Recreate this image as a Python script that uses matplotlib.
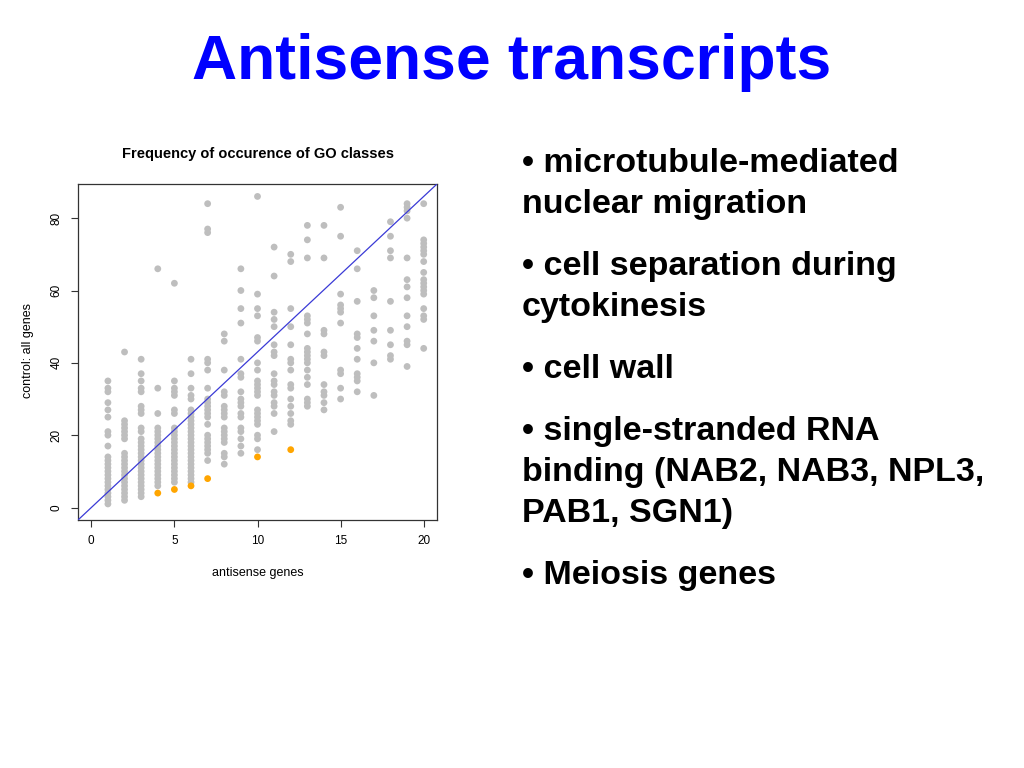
import matplotlib
matplotlib.use("Agg")
from matplotlib import pyplot as plt

plt.rcParams['font.family'] = ['Liberation Sans', 'DejaVu Sans']

# number of antisense genes per GO class (x) and the control counts seen at each x
antisense = [1, 2, 3, 4, 5, 6, 7, 8, 9, 10, 11, 12, 13, 14, 15, 16, 17, 18, 19, 20]
control = [
    [1, 2, 3, 4, 5, 6, 7, 8, 9, 10, 11, 12, 13, 14, 17, 20, 21, 25, 27, 29, 32, 33, 35],
    [2, 3, 4, 5, 6, 7, 8, 9, 10, 11, 12, 13, 14, 15, 19, 20, 21, 22, 23, 24, 43],
    [3, 4, 5, 6, 7, 8, 9, 10, 11, 12, 13, 14, 15, 16, 17, 18, 19, 21, 22, 26, 27, 28,
     32, 33, 35, 37, 41],
    [6, 7, 8, 9, 10, 11, 12, 13, 14, 15, 16, 17, 18, 19, 20, 21, 22, 26, 33, 66],
    [7, 8, 9, 10, 11, 12, 13, 14, 15, 16, 17, 18, 19, 20, 21, 22, 26, 27, 31, 32, 33, 35, 62],
    [7, 8, 9, 10, 11, 12, 13, 14, 15, 16, 17, 18, 19, 20, 21, 22, 23, 24, 25, 26, 27,
     30, 31, 33, 37, 41],
    [13, 15, 16, 17, 18, 19, 20, 23, 25, 26, 27, 28, 29, 30, 33, 38, 40, 41, 76, 77, 84],
    [12, 14, 15, 18, 19, 20, 21, 22, 25, 26, 27, 28, 31, 32, 38, 46, 48],
    [15, 17, 19, 21, 22, 25, 26, 28, 29, 30, 32, 36, 37, 41, 51, 55, 60, 66],
    [16, 19, 20, 23, 24, 25, 26, 27, 31, 32, 33, 34, 35, 38, 40, 46, 47, 53, 55, 59, 86],
    [21, 26, 28, 29, 31, 32, 34, 35, 37, 42, 43, 45, 50, 52, 54, 64, 72],
    [23, 24, 26, 28, 30, 33, 34, 38, 40, 41, 45, 50, 55, 68, 70],
    [28, 29, 30, 34, 36, 38, 40, 41, 42, 43, 44, 48, 51, 52, 53, 69, 74, 78],
    [27, 29, 31, 32, 34, 42, 43, 48, 49, 69, 78],
    [30, 33, 37, 38, 51, 54, 55, 56, 59, 75, 83],
    [32, 35, 36, 37, 41, 44, 47, 48, 57, 66, 71],
    [31, 40, 46, 49, 53, 58, 60],
    [41, 42, 45, 49, 57, 69, 71, 75, 79],
    [39, 45, 46, 50, 53, 58, 61, 63, 69, 80, 82, 83, 84],
    [44, 52, 53, 55, 59, 60, 61, 62, 63, 65, 68, 70, 71, 72, 73, 74, 84],
]

# classes picked out in orange
highlight_x = [4, 5, 6, 7, 10, 12]
highlight_y = [4, 5, 6, 8, 14, 16]

line_slope = 4.3

bullets = [
    ["\u2022 microtubule-mediated", "nuclear migration"],
    ["\u2022 cell separation during", "cytokinesis"],
    ["\u2022 cell wall"],
    ["\u2022 single-stranded RNA", "binding (NAB2, NAB3, NPL3,", "PAB1, SGN1)"],
    ["\u2022 Meiosis genes"],
]

fig = plt.figure(figsize=(10.24, 7.68), dpi=100)
W, H = 1024.0, 768.0

ax = fig.add_axes([78 / W, 1 - 520 / H, 359 / W, 336 / H])

xs, ys = [], []
for x, col in zip(antisense, control):
    for y in col:
        xs.append(x)
        ys.append(y)

ax.scatter(xs, ys, s=24, color='#bebebe', edgecolors='none', zorder=2)
ax.scatter(highlight_x, highlight_y, s=24, color='#ffa500', edgecolors='none', zorder=3)

ax.set_xlim(-0.8, 20.8)
ax.set_ylim(-3.44, 89.44)
ax.plot([-0.8, 20.8], [-0.8 * line_slope, 20.8 * line_slope], color='#3a3ad6', lw=0.9, zorder=4)

ax.set_xticks([0, 5, 10, 15, 20])
ax.set_yticks([0, 20, 40, 60, 80])
ax.tick_params(axis='both', direction='out', length=5, width=0.8, color='#333333',
               labelsize=8.5, pad=6)
for lab in ax.get_yticklabels():
    lab.set_rotation(90)
    lab.set_va('center')
for sp in ax.spines.values():
    sp.set_linewidth(0.9)
    sp.set_color('#333333')

fig.text(258 / W, 1 - 154 / H, "Frequency of occurence of GO classes",
         ha='center', va='center', fontsize=10.5, fontweight='bold')
fig.text(258 / W, 1 - 573 / H, "antisense genes", ha='center', va='center', fontsize=9)
fig.text(28 / W, 1 - 351 / H, "control: all genes", ha='center', va='center',
         rotation=90, fontsize=9)

fig.text(512 / W, 1 - 62 / H, "Antisense transcripts", ha='center', va='center',
         fontsize=45, fontweight='bold', color='#0000ff')

y = 172.5
for para in bullets:
    for line in para:
        fig.text(522 / W, 1 - y / H, line, ha='left', va='baseline',
                 fontsize=24.5, fontweight='bold', color='black')
        y += 40.7
    y += 21.5

fig.savefig("out.png", dpi=100)
